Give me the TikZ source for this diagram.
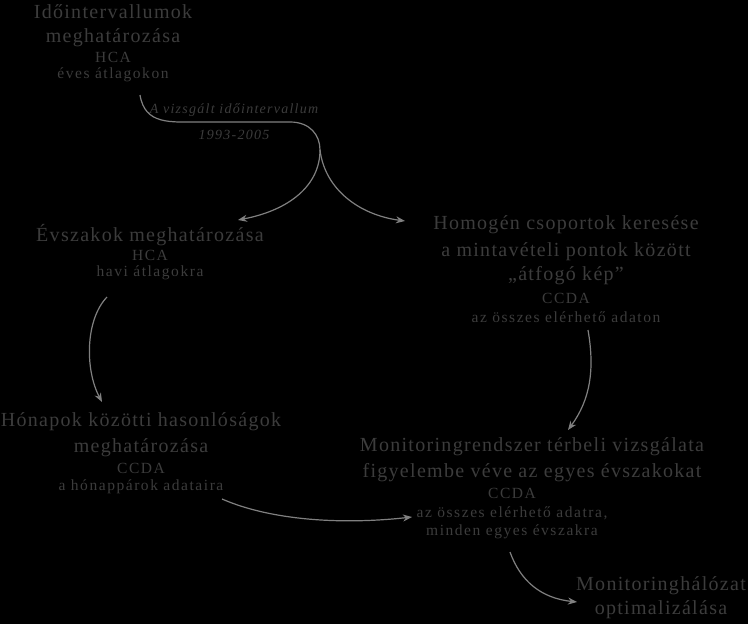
\documentclass[tikz,border=0pt]{standalone}
\usepackage{fontspec}
\setmainfont{Liberation Serif}
\newfontfamily\bigf[LetterSpace=6.5]{Liberation Serif}
\newfontfamily\smf[LetterSpace=10]{Liberation Serif}
\newfontfamily\labf[LetterSpace=9]{Liberation Serif}
\usetikzlibrary{arrows.meta}
\definecolor{txt}{HTML}{3C3C3C}
\definecolor{arr}{HTML}{808080}
\begin{document}
\begin{tikzpicture}[x=1pt,y=-1pt,
  big/.style={text=txt,font=\bigf\fontsize{20}{23}\selectfont,inner sep=0pt},
  sm/.style={text=txt,font=\smf\fontsize{15.5}{17}\selectfont,inner sep=0pt},
  lab/.style={text=txt,font=\labf\fontsize{14}{16}\selectfont\itshape,inner sep=0pt},
  con/.style={draw=arr,line width=1.2pt,-{Stealth[length=9pt,width=7pt]}}]
\fill[black] (0,0) rectangle (748,624);
\node[big] (a1) at (113,12) {Időintervallumok};
\node[big] (a2) at (113,38) {meghatározása};
\node[sm] (a3) at (113,57) {HCA};
\node[sm] (a4) at (113,75) {éves átlagokon};
\node[lab] (l1) at (234,110) {A vizsgált időintervallum};
\node[lab] (l2) at (234,135) {1993-2005};
\coordinate (s) at (140,95);
\coordinate (m) at (320,150);
\draw[draw=arr,line width=1.2pt] (s) .. controls (145,125) and (170,122) .. (200,122) -- (290,122) .. controls (310,122) and (320,135) .. (m);
\coordinate (b1) at (238,220);
\coordinate (b2) at (405,221);
\draw[con] (m) .. controls (320,185) and (290,210) .. (b1);
\draw[con] (m) .. controls (325,190) and (360,215) .. (b2);
\node[big] (e1) at (150,235) {Évszakok meghatározása};
\node[sm] (e2) at (150,255) {HCA};
\node[sm] (e3) at (150,273) {havi átlagokra};
\node[big] (h1) at (566,225) {Homogén csoportok keresése};
\node[big] (h2) at (566,252) {a mintavételi pontok között};
\node[big] (h3) at (566,276) {„átfogó kép”};
\node[sm] (h4) at (566,298) {CCDA};
\node[sm] (h5) at (566,317) {az összes elérhető adaton};
\coordinate (c1) at (107,297);
\coordinate (c2) at (102,402);
\draw[con] (c1) .. controls (85,320) and (85,370) .. (c2);
\coordinate (d1) at (588,330);
\coordinate (d2) at (568,430);
\draw[con] (d1) .. controls (595,370) and (590,400) .. (d2);
\node[big] (k1) at (141,422) {Hónapok közötti hasonlóságok};
\node[big] (k2) at (141,448) {meghatározása};
\node[sm] (k3) at (141,468) {CCDA};
\node[sm] (k4) at (141,487) {a hónappárok adataira};
\node[big] (m1) at (532,447) {Monitoringrendszer térbeli vizsgálata};
\node[big] (m2) at (532,473) {figyelembe véve az egyes évszakokat};
\node[sm] (m3) at (512,493) {CCDA};
\node[sm] (m4) at (512,513) {az összes elérhető adatra,};
\node[sm] (m5) at (512,532) {minden egyes évszakra};
\coordinate (f1) at (222,499);
\coordinate (f2) at (412,517);
\draw[con] (f1) .. controls (270,520) and (340,525) .. (f2);
\coordinate (g1) at (510,552);
\coordinate (g2) at (577,602);
\draw[con] (g1) .. controls (520,580) and (540,598) .. (g2);
\node[big] (o1) at (661,586) {Monitoringhálózat};
\node[big] (o2) at (661,610) {optimalizálása};
\end{tikzpicture}
\end{document}
